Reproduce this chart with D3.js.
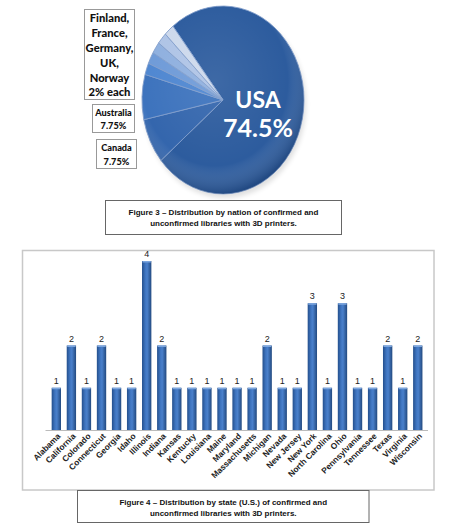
<!DOCTYPE html>
<html>
<head>
<meta charset="utf-8">
<script src="https://cdn.jsdelivr.net/npm/d3@7"></script>
<style>
  body { margin: 0; background: #fff; }
  svg { display: block; }
</style>
</head>
<body>
<svg id="chart" width="455" height="528"></svg>
<script>
// nations (figure 3)
const nations = ["USA", "Canada", "Australia", "Norway", "UK", "Germany", "France", "Finland"];
const nationShare = [74.5, 7.75, 7.75, 2, 2, 2, 2, 2];
const nationColors = ["#2d5c9e", "#3466ad", "#3d73bd", "#4f87d1", "#6f9bd8", "#8fb0df", "#afc4e6", "#cdd9ec"];

// states (figure 4)
const states = ["Alabama", "California", "Colorado", "Connecticut", "Georgia", "Idaho", "Illinois", "Indiana",
  "Kansas", "Kentucky", "Louisiana", "Maine", "Maryland", "Massachusetts", "Michigan", "Nevada",
  "New Jersey", "New York", "North Carolina", "Ohio", "Pennsylvania", "Tennessee", "Texas", "Virginia", "Wisconsin"];
const libraries = [1, 2, 1, 2, 1, 1, 4, 2, 1, 1, 1, 1, 1, 1, 2, 1, 1, 3, 1, 3, 1, 1, 2, 1, 2];
const yTicks = [0, 1, 2, 3, 4];

const svg = d3.select("#chart");
const defs = svg.append("defs");

// ---------- pie ----------
const shade = defs.append("radialGradient").attr("id", "pieShade")
  .attr("cx", "45%").attr("cy", "40%").attr("r", "60%");
shade.append("stop").attr("offset", "0%").attr("stop-color", "#fff").attr("stop-opacity", 0.08);
shade.append("stop").attr("offset", "75%").attr("stop-color", "#fff").attr("stop-opacity", 0);
shade.append("stop").attr("offset", "100%").attr("stop-color", "#0a2146").attr("stop-opacity", 0.3);

const blur = defs.append("filter").attr("id", "soft").attr("x", "-20%").attr("y", "-20%")
  .attr("width", "140%").attr("height", "140%");
blur.append("feGaussianBlur").attr("stdDeviation", 2.5);

const usaStart = 321.8 * Math.PI / 180;
const pie = d3.pie().sort(null).startAngle(usaStart).endAngle(usaStart + 2 * Math.PI);
const arc = d3.arc().innerRadius(0).outerRadius(81);

// faint shadow under the pie
svg.append("ellipse").attr("cx", 225).attr("cy", 104).attr("rx", 81).attr("ry", 94)
  .attr("fill", "#000").attr("opacity", 0.12).attr("filter", "url(#soft)");

const pg = svg.append("g").attr("transform", "translate(223,100) scale(1,1.16)");
pg.selectAll("path.slice")
  .data(pie(nationShare))
  .enter().append("path")
  .attr("class", "slice")
  .attr("d", arc)
  .attr("fill", (d, i) => nationColors[i])
  .attr("stroke", "#7f9dcb")
  .attr("stroke-width", 0.8);
pg.append("circle").attr("r", 81).attr("fill", "url(#pieShade)");

svg.append("text").attr("x", 258).attr("y", 108)
  .attr("text-anchor", "middle").attr("fill", "#fff")
  .style("font", "bold 23px Lato, sans-serif").text(nations[0]);
svg.append("text").attr("x", 258).attr("y", 137)
  .attr("text-anchor", "middle").attr("fill", "#fff")
  .style("font", "bold 25px Lato, sans-serif").text(nationShare[0] + "%");

// label boxes
function labelBox(x, y, w, h, lines, size, lineH) {
  svg.append("rect").attr("x", x).attr("y", y).attr("width", w).attr("height", h)
    .attr("fill", "#fff").attr("stroke", "#999").attr("stroke-width", 1);
  const t = svg.append("text").attr("text-anchor", "middle")
    .style("font", "900 " + size + "px Lato, sans-serif").attr("fill", "#111");
  lines.forEach((l, i) => {
    t.append("tspan").attr("x", x + w / 2).attr("y", y + lineH * (i + 1) - 2).text(l);
  });
}
labelBox(84.5, 9.5, 50, 90, ["Finland,", "France,", "Germany,", "UK,", "Norway", "2% each"], 11.2, 14.8);
labelBox(92.5, 104.5, 42, 28, [nations[2], nationShare[2] + "%"], 9.2, 13);
labelBox(96.5, 139.5, 40, 29, [nations[1], nationShare[1] + "%"], 9.2, 13.5);

// caption boxes
function caption(x, y, w, h, lines) {
  svg.append("rect").attr("x", x).attr("y", y).attr("width", w).attr("height", h)
    .attr("fill", "#fff").attr("stroke", "#666").attr("stroke-width", 1);
  const t = svg.append("text").attr("text-anchor", "middle")
    .style("font", "bold 8px 'Liberation Sans', Arial, sans-serif").attr("fill", "#111");
  lines.forEach((l, i) => {
    t.append("tspan").attr("x", x + w / 2).attr("y", y + 14 + i * 11.5).text(l);
  });
}
caption(105.5, 200.5, 236, 34, ["Figure 3 \u2013 Distribution by nation of confirmed and",
  "unconfirmed libraries with 3D printers."]);

// ---------- bar chart ----------
svg.append("rect").attr("x", 22.5).attr("y", 250.5).attr("width", 411.5).attr("height", 239.5)
  .attr("fill", "#fff").attr("stroke", "#c8c8c8").attr("stroke-width", 1.5);

const x = d3.scaleBand().domain(states).range([48.8, 425.3]).paddingInner(0.38).paddingOuter(0.19);
const y = d3.scaleLinear().domain([0, d3.max(yTicks)]).range([430, 261]);

const barGrad = defs.append("linearGradient").attr("id", "barGrad")
  .attr("x1", "0%").attr("x2", "100%").attr("y1", "0%").attr("y2", "0%");
[["0%", "#244f8c"], ["35%", "#3f75c0"], ["55%", "#4a80cb"], ["100%", "#22497f"]].forEach(s =>
  barGrad.append("stop").attr("offset", s[0]).attr("stop-color", s[1]));

const bars = svg.append("g");
bars.selectAll("rect.bar")
  .data(libraries)
  .enter().append("rect")
  .attr("class", "bar")
  .attr("x", (d, i) => x(states[i]))
  .attr("y", d => y(d))
  .attr("width", x.bandwidth())
  .attr("height", d => y(0) - y(d))
  .attr("fill", "url(#barGrad)");
// light cap on top of each bar
bars.selectAll("rect.cap")
  .data(libraries)
  .enter().append("rect")
  .attr("x", (d, i) => x(states[i]) + 0.5)
  .attr("y", d => y(d))
  .attr("width", x.bandwidth() - 1)
  .attr("height", 1.5)
  .attr("fill", "#7da6de");

bars.selectAll("text.val")
  .data(libraries)
  .enter().append("text")
  .attr("x", (d, i) => x(states[i]) + x.bandwidth() / 2)
  .attr("y", d => y(d) - 4)
  .attr("text-anchor", "middle")
  .style("font", "9px 'Liberation Sans', Arial, sans-serif")
  .attr("fill", "#222")
  .text(d => d);

const xAxis = svg.append("g")
  .attr("transform", "translate(0," + y(0) + ")")
  .call(d3.axisBottom(x).tickSize(0).tickPadding(0));
xAxis.select(".domain").attr("stroke", "#bbb").attr("d", "M45.5,0.5H428");
xAxis.selectAll(".tick text")
  .attr("transform", "translate(3,5) rotate(-45)")
  .attr("text-anchor", "end")
  .attr("dy", "0.3em")
  .attr("y", 0)
  .style("font", "bold 8.3px 'Liberation Sans', Arial, sans-serif")
  .attr("fill", "#222");

caption(77.5, 490.5, 291.5, 32, ["Figure 4 \u2013 Distribution by state (U.S.) of confirmed and",
  "unconfirmed libraries with 3D printers."]);
</script>
</body>
</html>
